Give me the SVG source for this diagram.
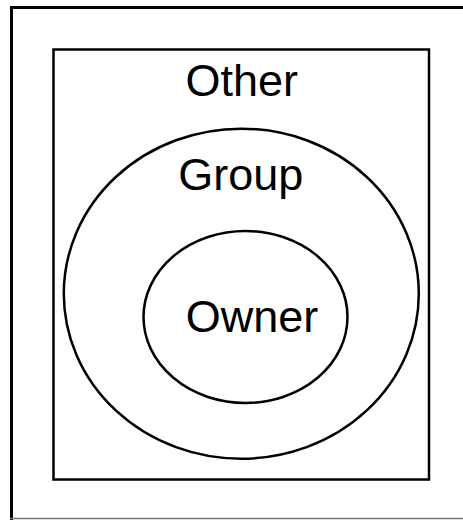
<svg xmlns="http://www.w3.org/2000/svg" width="463" height="520" viewBox="0 0 463 520">
<style>
.frame{fill:none;stroke:#000;stroke-width:3}
.shape{fill:none;stroke:#000;stroke-width:2.5}
.lbl{font-family:"Liberation Sans",Arial,sans-serif;font-size:45px;fill:#000;text-anchor:middle}
</style>
<rect width="463" height="520" fill="#fff"/>
<g id="frame">
<path class="frame" d="M11.5,520 V7.5 H463"/>
<line x1="10" y1="518.5" x2="463" y2="518.5" stroke="#777" stroke-width="1.5"/>
</g>
<g id="other">
<rect class="shape" x="53.5" y="49.5" width="375.5" height="430"/>
<text class="lbl" x="241.7" y="95.5">Other</text>
</g>
<g id="group">
<ellipse class="shape" cx="241.3" cy="293.7" rx="177.5" ry="165"/>
<text class="lbl" x="240.8" y="190">Group</text>
</g>
<g id="owner">
<ellipse class="shape" cx="245.5" cy="317" rx="102" ry="86"/>
<text class="lbl" x="252" y="331.5">Owner</text>
</g>
<g id="connectors"/>
</svg>
